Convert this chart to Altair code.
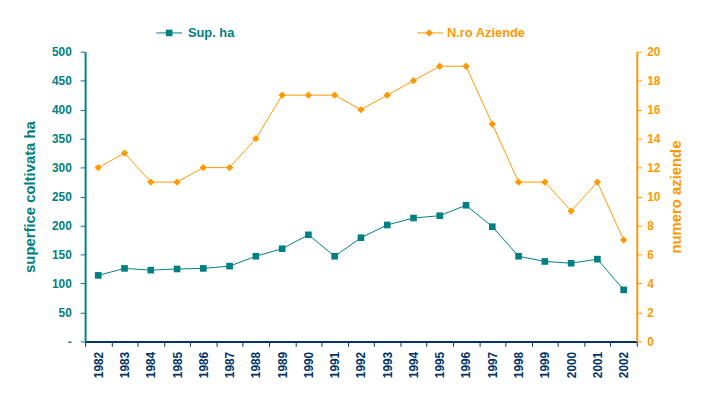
import altair as alt
import pandas as pd

years = [str(y) for y in range(1982, 2003)]
sup_ha = [114, 126, 123, 125, 126, 130, 147, 160, 184, 147, 179, 201, 213, 217, 235, 198, 147, 138, 135, 142, 89]
n_aziende = [12, 13, 11, 11, 12, 12, 14, 17, 17, 17, 16, 17, 18, 19, 19, 15, 11, 11, 9, 11, 7]
sup_ticks = [0, 50, 100, 150, 200, 250, 300, 350, 400, 450, 500]
az_ticks = [0, 2, 4, 6, 8, 10, 12, 14, 16, 18, 20]

TEAL = "#008080"
ORANGE = "#FF9900"
NAVY = "#003366"
FONT = "Liberation Sans"

df = pd.DataFrame({"anno": years, "sup": sup_ha, "az": n_aziende})

xenc = alt.X(
    "anno:O",
    bandPosition=0.5,
    scale=alt.Scale(type="band", paddingInner=0, paddingOuter=0),
    axis=alt.Axis(
        title=None, tickBand="extent", labelAngle=270, labelColor=NAVY,
        domainColor=NAVY, tickColor=NAVY, labelFont=FONT, labelFontWeight="bold",
        labelFontSize=12, tickSize=5, labelPadding=5, domainWidth=2,
        labelOverlap=False, labelBound=False,
    ),
)

y_sup = alt.Y(
    "sup:Q",
    scale=alt.Scale(domain=[0, 500], nice=False),
    axis=alt.Axis(
        title="superfice coltivata ha", values=sup_ticks,
        labelExpr="datum.value == 0 ? '-' : datum.label",
        labelColor=TEAL, titleColor=TEAL, domainColor=TEAL, tickColor=TEAL,
        labelFont=FONT, titleFont=FONT, labelFontWeight="bold", titleFontWeight="bold",
        labelFontSize=12, titleFontSize=15, grid=False, tickSize=5, labelPadding=9,
        titleAngle=270, titleX=-56, titleBaseline="middle", domainWidth=2,
        labelOverlap=False, labelBound=False,
    ),
)

y_az = alt.Y(
    "az:Q",
    scale=alt.Scale(domain=[0, 20], nice=False),
    axis=alt.Axis(
        title="numero aziende", orient="right", values=az_ticks,
        labelColor=ORANGE, titleColor=ORANGE, domainColor=ORANGE, tickColor=ORANGE,
        labelFont=FONT, titleFont=FONT, labelFontWeight="bold", titleFontWeight="bold",
        labelFontSize=12, titleFontSize=15, grid=False, tickSize=5, labelPadding=5,
        titleAngle=270, titleX=39, titleBaseline="middle", domainWidth=2,
        labelOverlap=False, labelBound=False,
    ),
)

base = alt.Chart(df)

sup_line = base.mark_line(color=TEAL, strokeWidth=1).encode(x=xenc, y=y_sup)
sup_pts = base.mark_point(shape="square", filled=True, opacity=1, color=TEAL, size=45).encode(x=xenc, y=y_sup)

az_line = base.mark_line(color=ORANGE, strokeWidth=1).encode(x=xenc, y=y_az)
az_pts = base.mark_point(shape="diamond", filled=True, opacity=1, color=ORANGE, size=55).encode(x=xenc, y=y_az)

one = alt.Chart(pd.DataFrame({"k": [0]}))
leg = alt.layer(
    one.mark_rule(color=TEAL, strokeWidth=1).encode(x=alt.value(72), x2=alt.value(98), y=alt.value(-19)),
    one.mark_point(shape="square", filled=True, opacity=1, color=TEAL, size=45).encode(x=alt.value(85), y=alt.value(-19)),
    one.mark_text(text="Sup. ha", color=TEAL, font=FONT, fontWeight="bold", fontSize=13, align="left", baseline="middle").encode(x=alt.value(104), y=alt.value(-19)),
    one.mark_rule(color=ORANGE, strokeWidth=1).encode(x=alt.value(336), x2=alt.value(362), y=alt.value(-19)),
    one.mark_point(shape="diamond", filled=True, opacity=1, color=ORANGE, size=55).encode(x=alt.value(348), y=alt.value(-19)),
    one.mark_text(text="N.ro Aziende", color=ORANGE, font=FONT, fontWeight="bold", fontSize=13, align="left", baseline="middle").encode(x=alt.value(366), y=alt.value(-19)),
)

left = alt.layer(sup_line, sup_pts)
right = alt.layer(az_line, az_pts)

chart = alt.layer(left, right, leg).resolve_scale(y="independent").properties(
    width=558, height=293,
    padding={"left": 78, "top": 42, "right": 71, "bottom": 55},
    autosize=alt.AutoSizeParams(type="none"),
    background="white",
).configure_view(stroke=None)

chart.save("out.html", embed_options={"renderer": "svg", "actions": False})
